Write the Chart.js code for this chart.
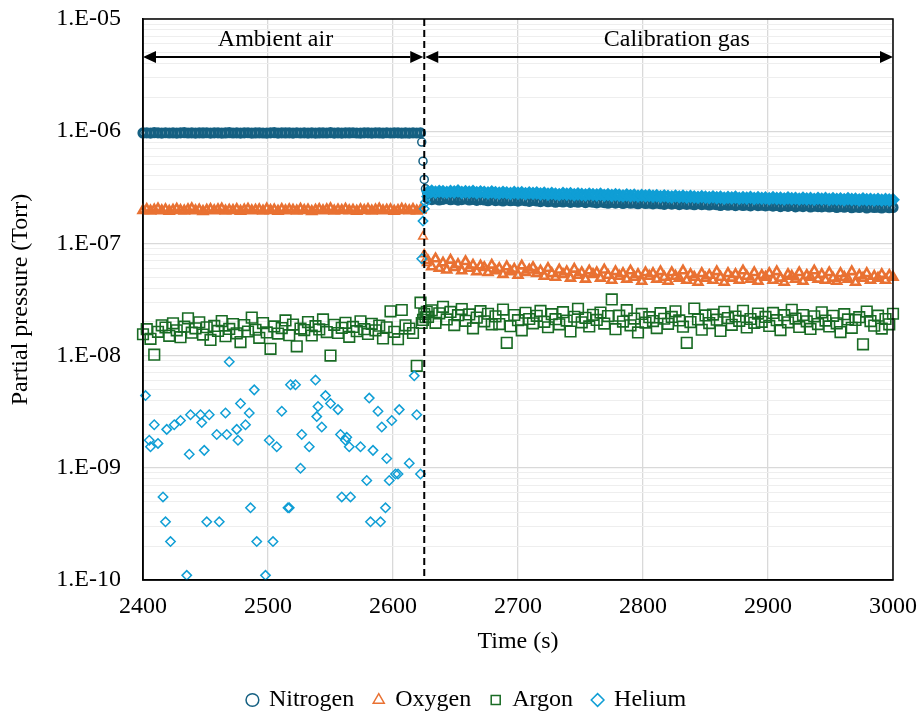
<!DOCTYPE html>
<html>
<head>
<meta charset="utf-8">
<title>Partial pressure</title>
<script src="https://cdn.jsdelivr.net/npm/chart.js@4.4.1/dist/chart.umd.min.js"></script>
<style>
  html, body { margin: 0; padding: 0; background: #fff; }
  #wrap { width: 920px; height: 712px; }
</style>
</head>
<body>
<div id="wrap"><canvas id="pressureChart"></canvas></div>
<script>
// all pressures below are in nTorr (1e-9 Torr), sampled every 3 s
const timeStep = 3;
const airStart = 2400;   // first ambient-air sample
const calStart = 2628;   // first calibration-gas sample
const switchTime = 2625; // valve switched to calibration gas

const nitrogenAir = [
  965, 968, 962, 970, 966, 963, 969, 964, 967, 961, 966, 970, 964, 968, 962,
  967, 965, 969, 963, 966, 968, 961, 965, 970, 964, 967, 963, 966, 969, 962,
  965, 968, 964, 961, 967, 970, 963, 966, 965, 968, 962, 969, 964, 966, 963,
  967, 961, 965, 968, 964, 970, 963, 966, 962, 967, 965, 969, 964, 961, 966,
  968, 963, 967, 965, 962, 969, 964, 966, 968, 963, 965, 961, 967, 964, 966
];
const nitrogenCal = [
  250, 246, 249, 244, 247, 251, 245, 248, 243, 246, 249, 244, 247, 242, 246,
  244, 240, 245, 241, 243, 239, 244, 240, 242, 238, 243, 240, 237, 242, 239,
  236, 240, 235, 238, 233, 237, 234, 238, 232, 236, 233, 237, 231, 235, 233,
  230, 234, 231, 228, 233, 229, 232, 227, 231, 228, 230, 226, 231, 227, 229,
  225, 229, 226, 223, 228, 224, 227, 222, 226, 223, 225, 221, 226, 222, 224,
  220, 224, 221, 218, 223, 219, 222, 217, 221, 218, 220, 216, 221, 217, 219,
  216, 219, 215, 218, 213, 217, 214, 218, 212, 216, 213, 217, 211, 215, 213,
  212, 215, 211, 214, 209, 213, 210, 214, 208, 212, 209, 213, 207, 211, 209,
  210, 207, 211, 208, 209
];

const oxygenAir = [
  197, 201, 195, 199, 203, 196, 200, 194, 198, 202, 197, 195, 200, 204, 196,
  199, 193, 198, 201, 196, 200, 203, 195, 198, 197, 201, 194, 199, 202, 196,
  198, 200, 195, 203, 197, 199, 194, 201, 196, 200, 198, 195, 202, 197, 199,
  193, 198, 201, 196, 200, 204, 195, 199, 197, 202, 196, 198, 194, 200, 197,
  201, 195, 199, 203, 196, 198, 200, 194, 197, 202, 199, 196, 201, 195, 198
];
const oxygenCal = [
  70, 62, 73, 60, 67, 58, 71, 61, 65, 57, 69, 60, 64, 56, 63,
  61, 55, 64, 57, 60, 53, 62, 56, 59, 52, 63, 55, 58, 61, 54,
  57, 51, 60, 54, 50, 58, 53, 56, 49, 59, 52, 55, 48, 57, 53,
  55, 49, 58, 52, 47, 56, 51, 54, 48, 57, 50, 53, 46, 55, 51,
  54, 48, 56, 50, 46, 55, 51, 49, 57, 47, 53, 50, 45, 54, 49,
  52, 47, 56, 50, 45, 54, 49, 53, 47, 57, 51, 48, 55, 46, 52,
  50, 54, 47, 56, 49, 45, 53, 51, 48, 55, 46, 52, 50, 57, 48,
  53, 47, 55, 49, 46, 54, 50, 48, 56, 45, 52, 49, 54, 47, 51,
  49, 53, 47, 52, 50
];

const argonAir = [
  15.5, 17.2, 14.1, 10.2, 16.3, 18.6, 17.8, 15.0, 19.4, 16.8, 14.6, 18.1, 21.5, 16.0, 17.5,
  19.8, 15.4, 17.9, 13.8, 18.4, 16.6, 20.3, 14.9, 17.3, 19.1, 15.8, 13.2, 18.7, 16.4, 21.8,
  17.0, 14.4, 19.5, 16.1, 11.5, 18.2, 15.7, 17.6, 20.6, 15.2, 18.9, 12.1, 17.4, 16.9, 19.9,
  15.1, 18.3, 17.1, 21.0, 16.2, 10.0, 18.8, 15.9, 17.7, 19.6, 14.7, 18.0, 16.5, 20.2, 17.2,
  15.6, 19.2, 16.8, 18.5, 14.2, 17.9, 24.8, 16.3, 14.0, 25.5, 18.6, 17.4, 15.9, 8.1, 29.6
];
const argonCal = [
  22.1, 25.3, 19.6, 23.8, 27.2, 21.0, 24.5, 18.7, 22.9, 26.0, 20.4, 23.3, 17.5, 21.8, 24.9,
  20.2, 23.6, 19.0, 22.4, 19.1, 25.7, 13.0, 18.3, 23.0, 20.7, 16.8, 24.1, 21.2, 19.4, 22.6,
  25.0, 20.0, 17.9, 23.4, 21.1, 19.0, 24.4, 20.5, 16.4, 22.2, 26.1, 19.8, 21.7, 18.2, 23.1,
  20.8, 24.2, 19.3, 22.5, 31.7, 17.2, 22.7, 20.1, 25.4, 18.6, 21.4, 16.1, 23.5, 19.7, 22.0,
  20.3, 17.6, 23.9, 21.3, 19.2, 22.1, 24.8, 20.6, 18.1, 13.0, 19.9, 26.3, 21.0, 17.0, 22.8,
  19.5, 23.2, 20.9, 16.6, 24.6, 21.6, 18.8, 22.3, 20.4, 25.1, 17.8, 21.2, 19.6, 23.7, 20.0,
  22.1, 18.4, 24.0, 20.7, 16.9, 22.9, 19.8, 25.6, 21.4, 18.0, 23.0, 20.2, 17.3, 22.4, 19.1,
  24.3, 20.5, 18.2, 22.6, 19.4, 16.2, 23.4, 21.0, 17.7, 20.8, 22.0, 12.6, 24.7, 20.3, 18.5,
  22.7, 17.4, 21.2, 19.0, 23.6
];

// helium in ambient air is near the detection limit: only scattered readings
const heliumAirTime = [
  2402, 2405, 2406, 2409, 2412, 2416, 2418, 2419, 2422, 2425,
  2430, 2435, 2437, 2438, 2446, 2447, 2449, 2451, 2453, 2459,
  2461, 2466, 2467, 2469, 2475, 2476, 2478, 2482, 2485, 2486,
  2489, 2491, 2498, 2501, 2504, 2507, 2511, 2516, 2517, 2518,
  2522, 2526, 2527, 2533, 2538, 2539, 2540, 2543, 2546, 2550,
  2556, 2558, 2559, 2562, 2563, 2565, 2566, 2574, 2579, 2581,
  2582, 2584, 2588, 2590, 2591, 2594, 2595, 2597, 2599, 2602,
  2604, 2605, 2613, 2617, 2619, 2622
];
const heliumAir = [
  4.4, 1.76, 1.54, 2.42, 1.65, 0.55, 0.33, 2.2, 0.22, 2.42,
  2.64, 0.11, 1.32, 2.97, 2.97, 2.53, 1.43, 0.33, 2.97, 1.98,
  0.33, 3.08, 1.98, 8.8, 2.2, 1.76, 3.74, 2.42, 3.08, 0.44,
  4.95, 0.22, 0.11, 1.76, 0.22, 1.54, 3.19, 0.44, 0.44, 5.5,
  5.5, 0.99, 1.98, 1.54, 6.05, 2.86, 3.52, 2.31, 4.4, 3.74,
  3.3, 1.98, 0.55, 1.76, 1.87, 1.54, 0.55, 1.54, 0.77, 4.18,
  0.33, 1.43, 3.19, 0.33, 2.31, 0.44, 1.21, 0.77, 2.64, 0.88,
  0.88, 3.3, 1.1, 6.6, 2.97, 0.88
];
const heliumCal = [
  288, 292, 286, 291, 289, 285, 290, 287, 293, 284, 289, 286, 290, 283, 288,
  285, 281, 287, 283, 280, 285, 282, 278, 284, 280, 283, 277, 282, 279, 281,
  276, 280, 274, 279, 275, 272, 278, 274, 277, 271, 276, 273, 270, 275, 272,
  270, 274, 268, 272, 267, 271, 269, 265, 270, 266, 269, 264, 268, 265, 267,
  263, 266, 261, 265, 262, 259, 264, 260, 263, 258, 262, 259, 257, 261, 258,
  256, 260, 255, 258, 253, 257, 254, 258, 252, 256, 253, 257, 251, 255, 252,
  254, 250, 255, 251, 253, 249, 254, 250, 252, 248, 253, 249, 251, 247, 252,
  248, 251, 246, 250, 247, 249, 245, 250, 246, 248, 244, 249, 245, 247, 244,
  247, 243, 246, 244, 245
];

// readings during the gas switch, one per second
const stepTime = [2623, 2624, 2625, 2626, 2627];
const nitrogenStep = [800, 541, 372, 307, 282];
const oxygenStep = [199, 115, 80, 71, 67];
const argonStep = [19.5, 20.8, 23.5, 22.0, 24.6];
const heliumStep = [73, 158, 204, 233, 262];

const FONT = '"Liberation Serif", "Times New Roman", serif';

function toTorr(v) {
    return v * 1e-9;
}

function onGrid(values, firstTime) {
    return values.map((v, i) => ({ x: firstTime + i * timeStep, y: toTorr(v) }));
}

function paired(times, values) {
    return times.map((t, i) => ({ x: t, y: toTorr(values[i]) }));
}

// markers sit much closer than their size in the continuous runs, so those get a heavier outline;
// isolated readings (switch, trace helium) keep the thin one
function gasSeries(label, color, pointStyle, radius, data, order, denseWidth, isSparse) {
    return {
        label: label,
        data: data,
        showLine: false,
        pointStyle: pointStyle,
        pointRadius: radius,
        pointHoverRadius: radius,
        pointBorderWidth: ctx => (ctx.raw && !isSparse(ctx.raw.x)) ? denseWidth : 1.5,
        pointBorderColor: color,
        pointBackgroundColor: 'rgba(0,0,0,0)',
        borderColor: color,
        backgroundColor: 'rgba(0,0,0,0)',
        clip: false,
        order: order
    };
}

const duringSwitch = t => t > stepTime[0] - 0.5 && t < stepTime[stepTime.length - 1] + 0.5;
const beforeCal = t => t < calStart - 0.5;

// dashed switch line, double arrows and phase labels, plus the closed frame
const phaseMarks = {
    id: 'phaseMarks',
    afterDatasetsDraw(chart) {
        const { ctx, chartArea: a, scales: { x } } = chart;
        const xs = x.getPixelForValue(switchTime);
        const ay = a.top + 38;

        function arrow(x1, x2) {
            const head = 13, half = 6;
            ctx.beginPath();
            ctx.moveTo(x1 + head, ay);
            ctx.lineTo(x2 - head, ay);
            ctx.stroke();
            ctx.beginPath();
            ctx.moveTo(x1, ay);
            ctx.lineTo(x1 + head, ay - half);
            ctx.lineTo(x1 + head, ay + half);
            ctx.closePath();
            ctx.moveTo(x2, ay);
            ctx.lineTo(x2 - head, ay - half);
            ctx.lineTo(x2 - head, ay + half);
            ctx.closePath();
            ctx.fill();
        }

        ctx.save();
        ctx.strokeStyle = '#000';
        ctx.fillStyle = '#000';
        ctx.lineWidth = 1.5;
        ctx.strokeRect(a.left, a.top, a.right - a.left, a.bottom - a.top);

        ctx.lineWidth = 2;
        ctx.setLineDash([7, 4]);
        ctx.beginPath();
        ctx.moveTo(xs, a.top);
        ctx.lineTo(xs, a.bottom);
        ctx.stroke();
        ctx.setLineDash([]);

        arrow(a.left, xs - 1);
        arrow(xs + 1, a.right);

        ctx.font = '24px ' + FONT;
        ctx.textAlign = 'center';
        ctx.textBaseline = 'middle';
        ctx.fillText('Ambient air', x.getPixelForValue(2506), a.top + 21);
        ctx.fillText('Calibration gas', x.getPixelForValue(2827), a.top + 21);
        ctx.restore();
    }
};

document.addEventListener('DOMContentLoaded', function() {
    Chart.defaults.font.family = FONT;
    Chart.defaults.color = '#000';

    const nitrogenData = onGrid(nitrogenAir, airStart)
        .concat(paired(stepTime, nitrogenStep), onGrid(nitrogenCal, calStart));
    const oxygenData = onGrid(oxygenAir, airStart)
        .concat(paired(stepTime, oxygenStep), onGrid(oxygenCal, calStart));
    const argonData = onGrid(argonAir, airStart)
        .concat(paired(stepTime, argonStep), onGrid(argonCal, calStart));
    const heliumData = paired(heliumAirTime, heliumAir)
        .concat(paired(stepTime, heliumStep), onGrid(heliumCal, calStart));

    new Chart(document.getElementById('pressureChart'), {
        type: 'scatter',
        data: {
            datasets: [
                gasSeries('Nitrogen', '#156082', 'circle', 4, nitrogenData, 4, 3.2, duringSwitch),
                gasSeries('Oxygen', '#e97132', 'triangle', 5, oxygenData, 3, 2.6, duringSwitch),
                gasSeries('Argon', '#196b24', 'rect', 7.5, argonData, 2, 1.6, duringSwitch),
                gasSeries('Helium', '#0f9ed5', 'rectRot', 4.7, heliumData, 1, 3.2, beforeCal)
            ]
        },
        options: {
            responsive: true,
            maintainAspectRatio: false,
            animation: false,
            layout: {
                padding: { left: 32, right: 18, top: 19, bottom: -10 }
            },
            plugins: {
                legend: {
                    position: 'bottom',
                    labels: {
                        usePointStyle: true,
                        boxWidth: 9,
                        boxHeight: 9,
                        padding: 20,
                        color: '#000',
                        font: { size: 24 },
                        sort: (a, b) => a.datasetIndex - b.datasetIndex,
                        generateLabels: chart => Chart.defaults.plugins.legend.labels.generateLabels(chart)
                            .map(item => Object.assign(item, { lineWidth: 1.5 }))
                    }
                },
                tooltip: { enabled: false }
            },
            scales: {
                x: {
                    type: 'linear',
                    min: 2400,
                    max: 3000,
                    afterFit: scale => { scale.height = 88; },
                    ticks: {
                        stepSize: 100,
                        padding: 3,
                        color: '#000',
                        font: { size: 24 },
                        callback: value => String(value)
                    },
                    grid: {
                        color: '#d9d9d9',
                        lineWidth: 1.3,
                        drawTicks: true,
                        tickLength: 9,
                        tickColor: 'rgba(0,0,0,0)'
                    },
                    border: { color: '#000', width: 1.5 },
                    title: {
                        display: true,
                        text: 'Time (s)',
                        color: '#000',
                        font: { size: 24 },
                        padding: { top: 0, bottom: 12 }
                    }
                },
                y: {
                    type: 'logarithmic',
                    min: 1e-10,
                    max: 1e-5,
                    afterFit: scale => { scale.width = 111; },
                    afterBuildTicks: scale => {
                        const ticks = [];
                        for (let e = -10; e < -5; e++) {
                            for (let m = 1; m <= 9; m++) {
                                ticks.push({ value: m * Math.pow(10, e), major: m === 1 });
                            }
                        }
                        ticks.push({ value: 1e-5, major: true });
                        scale.ticks = ticks;
                    },
                    ticks: {
                        autoSkip: false,
                        padding: 3,
                        color: '#000',
                        font: { size: 24 },
                        callback: function(value) {
                            const e = Math.round(Math.log10(value));
                            if (Math.abs(value - Math.pow(10, e)) > Math.pow(10, e) * 1e-6) {
                                return '';
                            }
                            return '1.E-' + String(-e).padStart(2, '0');
                        }
                    },
                    grid: {
                        color: ctx => (ctx.tick && ctx.tick.major) ? '#d9d9d9' : '#eeeeee',
                        lineWidth: ctx => (ctx.tick && ctx.tick.major) ? 1.3 : 1,
                        drawTicks: true,
                        tickLength: 19,
                        tickColor: 'rgba(0,0,0,0)'
                    },
                    border: { color: '#000', width: 1.5 },
                    title: {
                        display: true,
                        text: 'Partial pressure (Torr)',
                        color: '#000',
                        font: { size: 24 },
                        padding: { top: -26, bottom: 0 }
                    }
                }
            }
        },
        plugins: [phaseMarks]
    });
});
</script>
</body>
</html>
